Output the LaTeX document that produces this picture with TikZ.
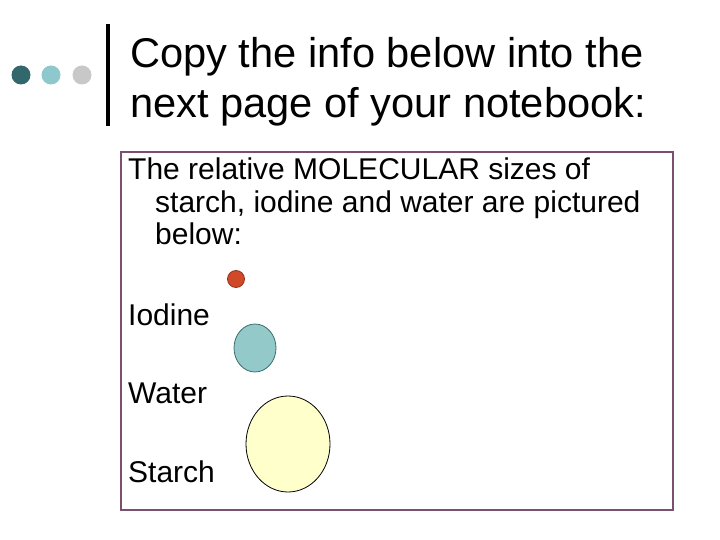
\documentclass[tikz,border=0pt]{standalone}
\usepackage{fontspec}
\setmainfont{Liberation Sans}
\usepackage{tikz}
\definecolor{dot_dark}{RGB}{50, 104, 108}
\definecolor{dot_light}{RGB}{143, 200, 204}
\definecolor{dot_grey}{RGB}{200, 200, 200}
\definecolor{box_purple}{RGB}{122, 80, 110}
\definecolor{iodine_red}{RGB}{208, 74, 42}
\definecolor{water_teal}{RGB}{147, 201, 201}
\definecolor{water_edge}{RGB}{60, 110, 110}
\definecolor{starch_yellow}{RGB}{255, 255, 204}
\tikzset{txt/.style={anchor=base west, inner sep=0pt}}

\begin{document}
\begin{tikzpicture}[x=1pt, y=-1pt]
\useasboundingbox (0,0) rectangle (720,540);
\fill[dot_dark] (21,75) circle (9.5);
\fill[dot_light] (51,75) circle (9.5);
\fill[dot_grey] (82,75) circle (9.5);
\fill (106,24) rectangle (110,126);
\node[txt, font=\fontsize{41.6}{42}\selectfont] (title1) at (130,68) {Copy the info below into the};
\node[txt, font=\fontsize{41.6}{42}\selectfont] (title2) at (130,118) {next page of your notebook:};
\draw[box_purple, line width=1.2] (121,152) rectangle (673,510);
\node[txt, font=\fontsize{30}{30}\selectfont] (line1) at (128,180) {The relative MOLECULAR sizes of};
\node[txt, font=\fontsize{30}{30}\selectfont] (line2) at (155,212) {starch, iodine and water are pictured};
\node[txt, font=\fontsize{30}{30}\selectfont] (line3) at (155,244) {below:};
\node[txt, font=\fontsize{30}{30}\selectfont] (iodine) at (128,325) {Iodine};
\node[txt, font=\fontsize{30}{30}\selectfont] (water) at (128,403) {Water};
\node[txt, font=\fontsize{30}{30}\selectfont] (starch) at (128,482) {Starch};
\draw[fill=iodine_red, draw=iodine_red!70!black, line width=0.8] (236,279) circle (8.5);
\draw[fill=water_teal, draw=water_edge, line width=0.8] (255,348) ellipse (21 and 24);
\draw[fill=starch_yellow, draw=black, line width=0.8] (288,444) ellipse (42 and 48);
\end{tikzpicture}
\end{document}
